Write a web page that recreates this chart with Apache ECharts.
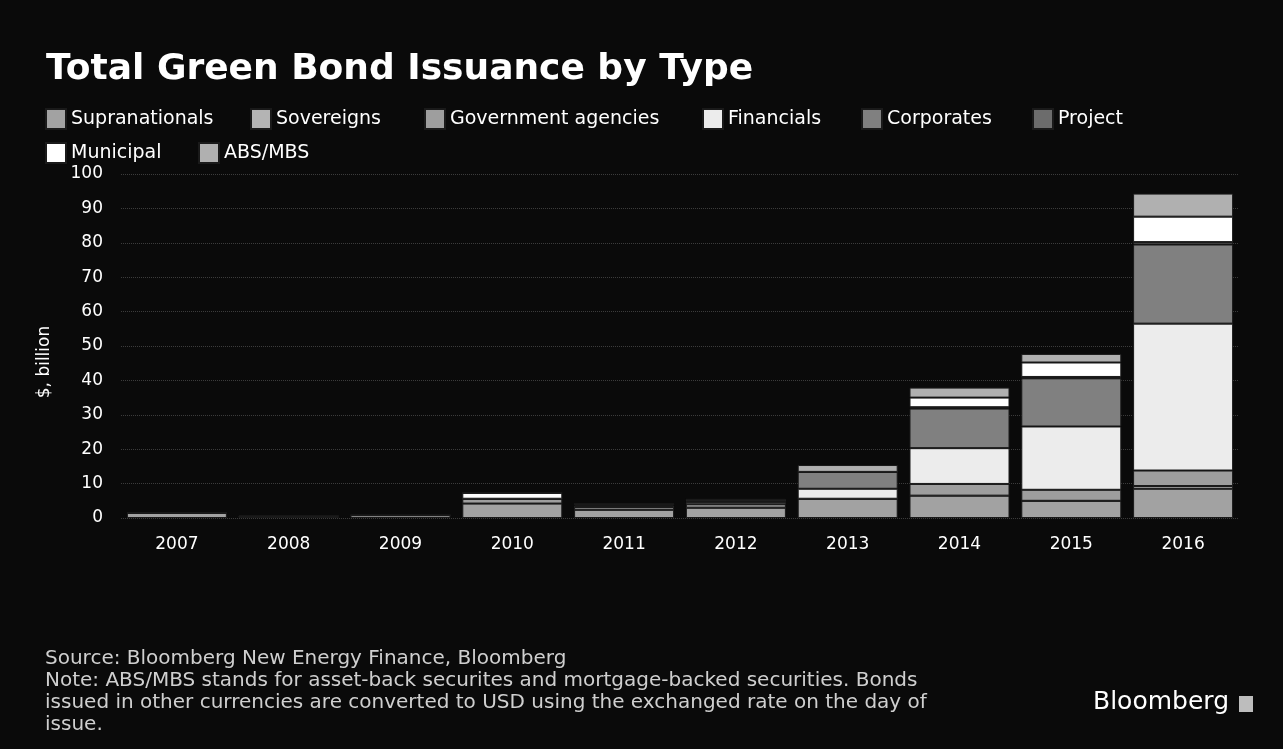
<!DOCTYPE html>
<html>
<head>
<meta charset="utf-8">
<script src="https://cdn.jsdelivr.net/npm/echarts@6/dist/echarts.min.js"></script>
<style>
  html, body { margin: 0; padding: 0; background: #0a0a0a; }
  #main { width: 1283px; height: 749px; }
</style>
</head>
<body>
<div id="main"></div>
<script>
// categories
const years = ['2007', '2008', '2009', '2010', '2011', '2012', '2013', '2014', '2015', '2016'];

// $ billion (stacked bottom to top in legend order)
const supranationals = [1.5, 0.5, 0.8, 4.2, 2.4, 3.0, 5.6, 6.5, 5.0, 8.5];
const sovereigns = [0, 0, 0, 0, 0, 0, 0, 0, 0, 0.8];
const govAgencies = [0, 0, 0, 1.4, 0.8, 1.0, 0, 3.4, 3.2, 4.5];
const financials = [0, 0, 0, 0, 0.4, 0.6, 2.9, 10.4, 18.4, 42.7];
const corporates = [0, 0, 0, 0, 0.3, 0.4, 4.9, 11.5, 14.0, 23.0];
const project = [0, 0, 0, 0, 0, 0, 0, 0.4, 0.4, 0.7];
const municipal = [0, 0, 0, 1.7, 0.2, 0.4, 0, 2.8, 4.2, 7.4];
const absMbs = [0, 0, 0, 0, 0, 0, 2.0, 2.9, 2.5, 6.7];

// y axis ticks
const yTicks = [0, 10, 20, 30, 40, 50, 60, 70, 80, 90, 100];

const names = ['Supranationals', 'Sovereigns', 'Government agencies', 'Financials',
  'Corporates', 'Project', 'Municipal', 'ABS/MBS'];
const values = [supranationals, sovereigns, govAgencies, financials,
  corporates, project, municipal, absMbs];
const colors = ['#a2a2a2', '#b4b4b4', '#9e9e9e', '#ececec',
  '#808080', '#6c6c6c', '#ffffff', '#b0b0b0'];

// legend item positions (x, y), laid out like the original
const legendPos = [[45, 108], [250, 108], [424, 108], [702, 108],
  [861, 108], [1032, 108], [45, 142], [198, 142]];

const font = 'DejaVu Sans';

const myChart = echarts.init(document.getElementById('main'));

const option = {
  backgroundColor: '#0a0a0a',
  title: {
    text: 'Total Green Bond Issuance by Type',
    left: 41,
    top: 47,
    textStyle: { color: '#ffffff', fontFamily: font, fontWeight: 'bold', fontSize: 36 },
  },
  legend: names.map((n, i) => ({
    data: [n],
    left: legendPos[i][0],
    top: legendPos[i][1],
    icon: 'rect',
    itemWidth: 20,
    itemHeight: 20,
    itemGap: 0,
    padding: 0,
    selectedMode: false,
    textStyle: { color: '#ffffff', fontFamily: font, fontSize: 19 },
  })),
  grid: { left: 121, right: 44, top: 174, bottom: 231 },
  xAxis: {
    type: 'category',
    data: years,
    axisLine: { show: false },
    axisTick: { show: false },
    axisLabel: { color: '#ffffff', fontFamily: font, fontSize: 17, margin: 18 },
  },
  yAxis: {
    type: 'value',
    min: yTicks[0],
    max: yTicks[yTicks.length - 1],
    interval: 10,
    axisLabel: { color: '#ffffff', fontFamily: font, fontSize: 17, margin: 18 },
    splitLine: { lineStyle: { color: '#3c3c3c', type: 'dotted', width: 1 } },
  },
  series: names.map((n, i) => ({
    name: n,
    type: 'bar',
    stack: 'total',
    barWidth: 100,
    data: values[i],
    itemStyle: { color: colors[i], borderColor: '#1a1a1a', borderWidth: 1 },
  })),
  graphic: [
    {
      type: 'text',
      x: 36, y: 362,
      rotation: Math.PI / 2,
      style: { text: '$, billion', fill: '#ffffff', font: '17px "DejaVu Sans"', align: 'center', verticalAlign: 'top' },
    },
    {
      type: 'text',
      left: 45, top: 648,
      style: {
        text: 'Source: Bloomberg New Energy Finance, Bloomberg\n' +
          'Note: ABS/MBS stands for asset-back securites and mortgage-backed securities. Bonds\n' +
          'issued in other currencies are converted to USD using the exchanged rate on the day of\n' +
          'issue.',
        fill: '#cfcfcf',
        font: '20px "DejaVu Sans"',
        lineHeight: 22,
      },
    },
    {
      type: 'text',
      right: 54, top: 690,
      style: { text: 'Bloomberg', fill: '#ffffff', font: '25px "DejaVu Sans"' },
    },
    {
      type: 'rect',
      shape: { x: 1239, y: 696, width: 14, height: 16 },
      style: { fill: '#bdbdbd' },
    },
  ],
};

myChart.setOption(option);
</script>
</body>
</html>
